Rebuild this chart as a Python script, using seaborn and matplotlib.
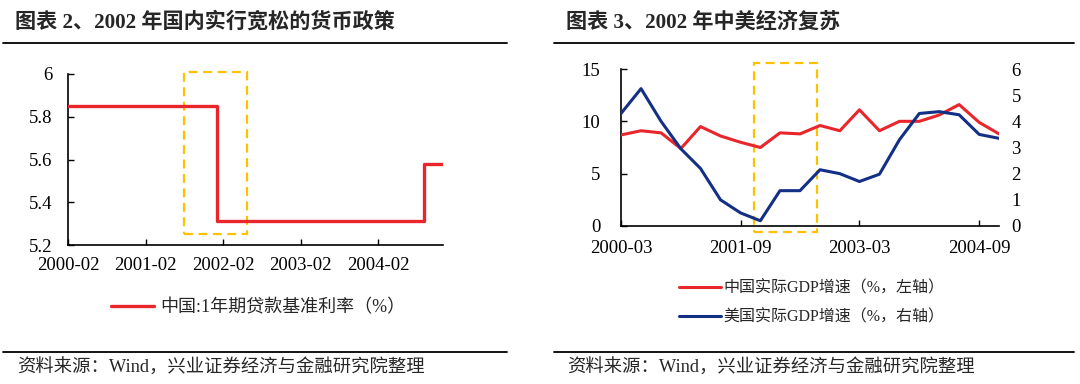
import matplotlib
matplotlib.use("Agg")
import matplotlib.pyplot as plt
import matplotlib.dates as mdates
from matplotlib.lines import Line2D
from matplotlib.patches import Rectangle
from matplotlib.ticker import FuncFormatter
import pandas as pd
import seaborn as sns

sns.set_theme(style="white")
plt.rcParams["font.family"] = ["Liberation Serif", "Noto Sans CJK SC"]
plt.rcParams["axes.unicode_minus"] = False

# 图表2：1年期贷款基准利率（变动点，阶梯线）
rate_months = ["2000-02", "2002-01", "2004-09", "2004-12"]
rate_values = [5.85, 5.31, 5.58, 5.58]
rate_ticks = ["2000-02", "2001-02", "2002-02", "2003-02", "2004-02"]
rate_yticks = [5.2, 5.4, 5.6, 5.8, 6.0]

# 图表3：中美实际GDP增速（季度）
gdp_quarters = ["2000-03", "2000-06", "2000-09", "2000-12",
                "2001-03", "2001-06", "2001-09", "2001-12",
                "2002-03", "2002-06", "2002-09", "2002-12",
                "2003-03", "2003-06", "2003-09", "2003-12",
                "2004-03", "2004-06", "2004-09", "2004-12"]
china_gdp = [8.7, 9.1, 8.9, 7.4, 9.5, 8.6, 8.0, 7.5, 8.9, 8.8,
             9.6, 9.1, 11.1, 9.1, 10.0, 10.0, 10.6, 11.6, 9.9, 8.8]
us_gdp = [4.3, 5.25, 4.0, 2.95, 2.2, 1.0, 0.5, 0.2, 1.35, 1.35,
          2.15, 2.0, 1.7, 1.98, 3.3, 4.3, 4.37, 4.25, 3.5, 3.35]
gdp_ticks = ["2000-03", "2001-09", "2003-03", "2004-09"]

RED = "#E8262B"
BLUE = "#142F86"
ORANGE = "#FFC000"
TICK_FS = 13.5

W, H = 1080, 384
fig = plt.figure(figsize=(W / 100, H / 100), dpi=100)


def px_axes(x0, y0, x1, y1):
    # pixel box (top-left origin) -> figure axes
    return fig.add_axes([x0 / W, 1 - y1 / H, (x1 - x0) / W, (y1 - y0) / H])


def hline(x0, x1, y, lw=1.3):
    fig.add_artist(Line2D([x0 / W, x1 / W], [1 - y / H, 1 - y / H],
                          color="black", lw=lw, transform=fig.transFigure))


def dbox(ax, d0, d1, y0, y1):
    x0 = mdates.date2num(pd.Timestamp(d0))
    x1 = mdates.date2num(pd.Timestamp(d1))
    ax.add_patch(Rectangle((x0, y0), x1 - x0, y1 - y0, fill=False,
                           ec=ORANGE, lw=1.6, ls=(0, (4, 2.5)),
                           clip_on=False, zorder=1))


def style_axis(ax):
    for s in ["top", "right"]:
        ax.spines[s].set_visible(False)
    for s in ["left", "bottom"]:
        ax.spines[s].set_color("black")
        ax.spines[s].set_linewidth(1.2)
    ax.set_xlabel("")
    ax.set_ylabel("")


# ---------------- 左图 ----------------
df_rate = pd.DataFrame({"date": pd.to_datetime(rate_months), "rate": rate_values})
ax1 = px_axes(68, 74, 443, 245)
sns.lineplot(data=df_rate, x="date", y="rate", ax=ax1, color=RED, lw=2.4,
             drawstyle="steps-post", legend=False,
             label="中国:1年期贷款基准利率（%）", zorder=3)
style_axis(ax1)
ax1.set_xlim(pd.Timestamp(rate_months[0]), pd.Timestamp(rate_months[-1]))
ax1.set_ylim(5.2, 6.0)
ax1.set_yticks(rate_yticks)
ax1.yaxis.set_major_formatter(FuncFormatter(lambda v, p: f"{v:g}"))
ax1.set_xticks(pd.to_datetime(rate_ticks))
ax1.set_xticklabels(rate_ticks)
ax1.tick_params(axis="both", direction="in", length=4, width=1,
                color="black", labelsize=TICK_FS, labelcolor="black")
ax1.tick_params(axis="y", pad=11, left=True)
ax1.tick_params(axis="x", pad=9, bottom=True)
dbox(ax1, "2001-08-01", "2002-05-25", 5.25, 6.01)
h1, l1 = ax1.get_legend_handles_labels()
ax1.legend(h1, l1, loc="center left", bbox_to_anchor=(111 / W, 1 - 308 / H),
           bbox_transform=fig.transFigure, frameon=False, fontsize=13,
           handlelength=2.4, handletextpad=0.3, borderpad=0, borderaxespad=0)

# ---------------- 右图 ----------------
df_gdp = pd.DataFrame({"date": pd.to_datetime(gdp_quarters),
                       "china": china_gdp, "us": us_gdp})
ax2 = px_axes(621, 69, 999, 226)
sns.lineplot(data=df_gdp, x="date", y="china", ax=ax2, color=RED, lw=2.2,
             legend=False, label="中国实际GDP增速（%，左轴）", zorder=3)
style_axis(ax2)
ax2.set_xlim(pd.Timestamp(gdp_quarters[0]), pd.Timestamp(gdp_quarters[-1]))
ax2.set_ylim(0, 15)
ax2.set_yticks([0, 5, 10, 15])
ax2.set_xticks(pd.to_datetime(gdp_ticks))
ax2.set_xticklabels(gdp_ticks)
ax2.tick_params(axis="both", direction="in", length=4, width=1,
                color="black", labelsize=TICK_FS, labelcolor="black")
ax2.tick_params(axis="y", pad=15, left=True)
ax2.tick_params(axis="x", pad=10, bottom=True)

ax3 = ax2.twinx()
sns.lineplot(data=df_gdp, x="date", y="us", ax=ax3, color=BLUE, lw=2.2,
             legend=False, label="美国实际GDP增速（%，右轴）", zorder=3)
for s in ax3.spines.values():
    s.set_visible(False)
ax3.set_ylabel("")
ax3.set_ylim(0, 6)
ax3.set_yticks(range(0, 7))
ax3.tick_params(axis="y", length=0, pad=9, labelsize=TICK_FS,
                labelcolor="black", right=True)
dbox(ax2, "2001-11-04", "2002-08-20", -0.57, 15.57)

h2, l2 = ax2.get_legend_handles_labels()
h3, l3 = ax3.get_legend_handles_labels()
ax3.legend(h2 + h3, l2 + l3, loc="center left",
           bbox_to_anchor=(679 / W, 1 - 303 / H),
           bbox_transform=fig.transFigure, frameon=False, fontsize=11.5,
           handlelength=2.6, handletextpad=0.2, borderpad=0,
           borderaxespad=0, labelspacing=0.8)

# ---------------- 标题与来源 ----------------
fig.text(15 / W, 1 - 22 / H, "图表 2、2002 年国内实行宽松的货币政策",
         fontsize=15.2, fontweight="bold", va="center", ha="left")
fig.text(566 / W, 1 - 22 / H, "图表 3、2002 年中美经济复苏",
         fontsize=15.2, fontweight="bold", va="center", ha="left")
hline(3, 507, 43)
hline(554, 1074, 43)
hline(3, 507, 352)
hline(554, 1074, 352)
src = "资料来源：Wind，兴业证券经济与金融研究院整理"
fig.text(17 / W, 1 - 368 / H, src, fontsize=13.2, va="center", ha="left")
fig.text(567 / W, 1 - 368 / H, src, fontsize=13.2, va="center", ha="left")

fig.savefig("out.png", dpi=100)
